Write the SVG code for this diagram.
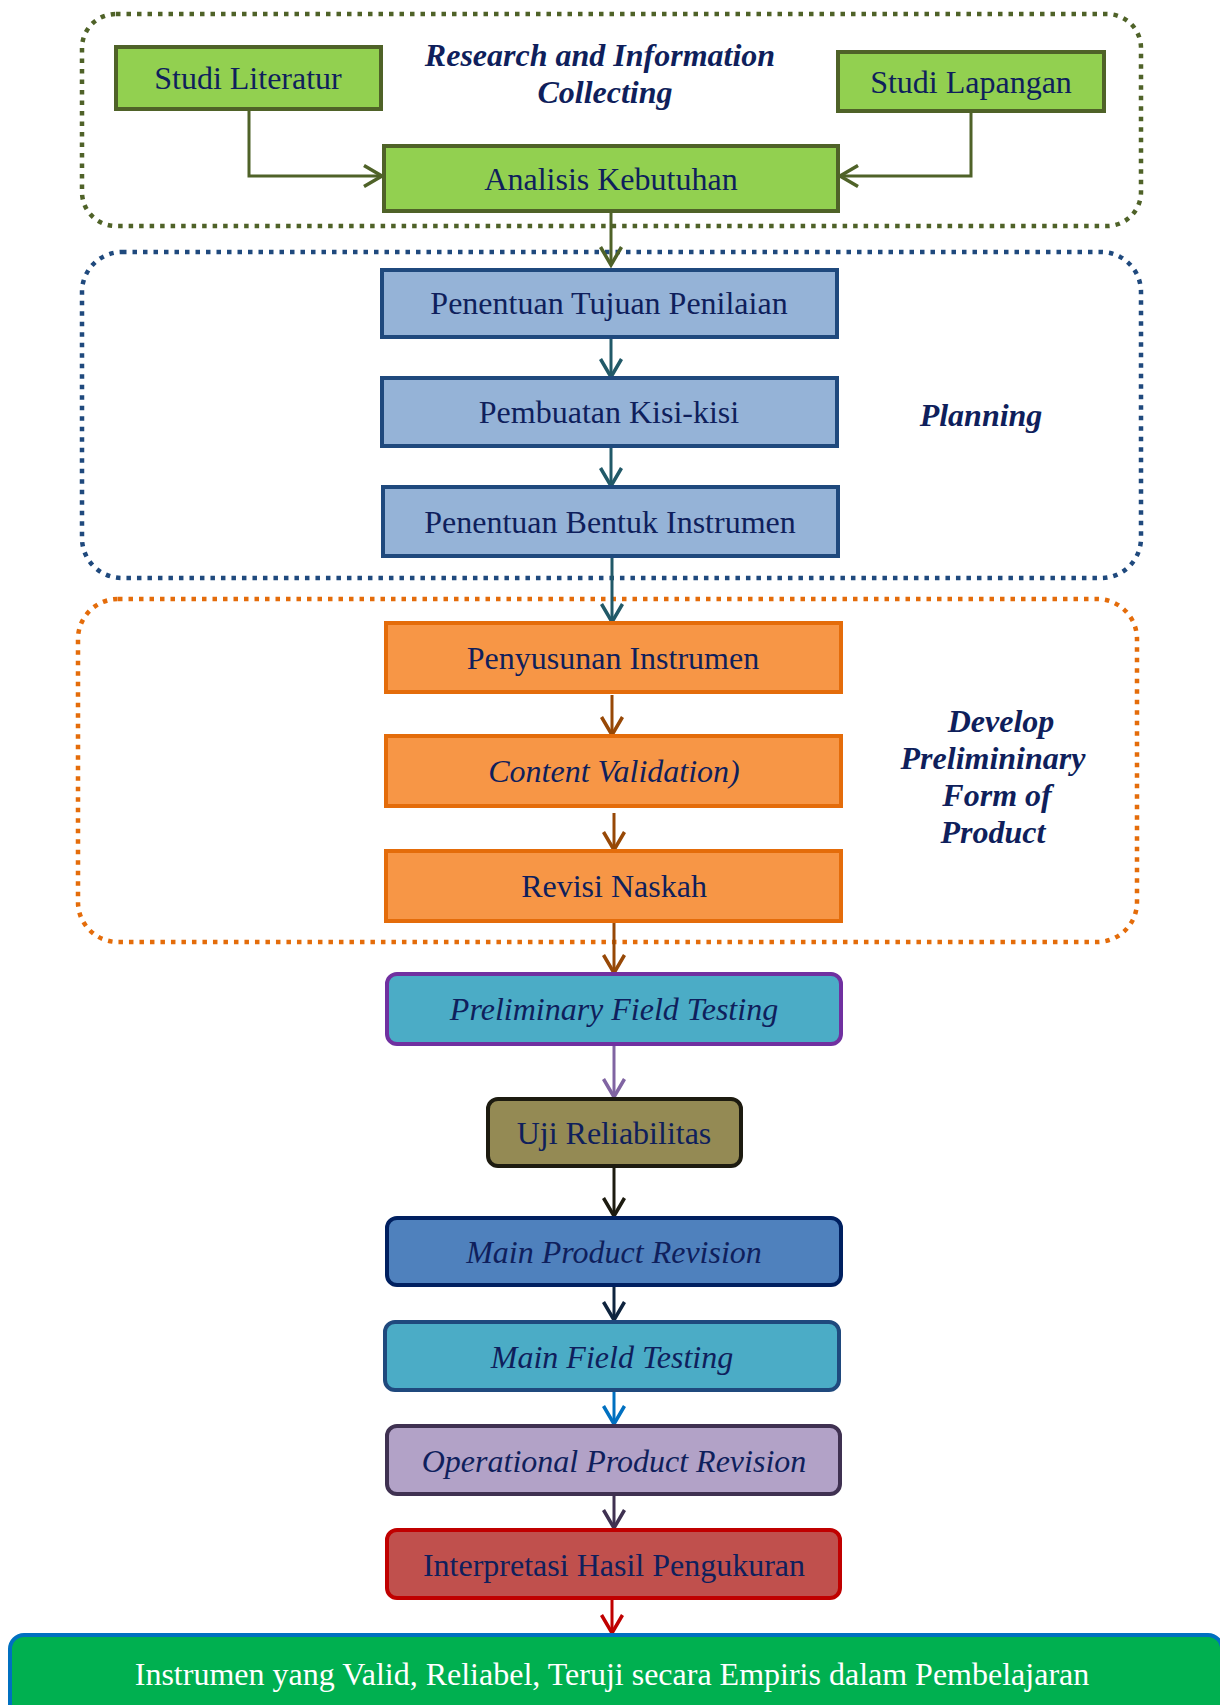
<svg xmlns="http://www.w3.org/2000/svg" width="1220" height="1705" viewBox="0 0 1220 1705">
<defs>
<style>
.t{font-family:"Liberation Serif","Times New Roman",serif;font-size:32px;fill:#0f1f5c;text-anchor:middle}
.i{font-style:italic}
.b{font-weight:bold;font-style:italic}
.grp{fill:none;stroke-width:4.5;stroke-dasharray:4.5 6}
.c{fill:none;stroke-width:3}
.h{fill:none;stroke-width:3.5;stroke-linejoin:miter}
</style>
<marker id="aG" viewBox="0 0 24 24" refX="21" refY="12" markerWidth="24" markerHeight="24" markerUnits="userSpaceOnUse" orient="auto"><path class="h" d="M3,1.5 L21,12 L3,22.5" stroke="#4f6228"/></marker>
<marker id="aT" viewBox="0 0 24 24" refX="21" refY="12" markerWidth="24" markerHeight="24" markerUnits="userSpaceOnUse" orient="auto"><path class="h" d="M3,1.5 L21,12 L3,22.5" stroke="#215968"/></marker>
<marker id="aO" viewBox="0 0 24 24" refX="21" refY="12" markerWidth="24" markerHeight="24" markerUnits="userSpaceOnUse" orient="auto"><path class="h" d="M3,1.5 L21,12 L3,22.5" stroke="#974806"/></marker>
<marker id="aP" viewBox="0 0 24 24" refX="21" refY="12" markerWidth="24" markerHeight="24" markerUnits="userSpaceOnUse" orient="auto"><path class="h" d="M3,1.5 L21,12 L3,22.5" stroke="#8064a2"/></marker>
<marker id="aK" viewBox="0 0 24 24" refX="21" refY="12" markerWidth="24" markerHeight="24" markerUnits="userSpaceOnUse" orient="auto"><path class="h" d="M3,1.5 L21,12 L3,22.5" stroke="#1d1b10"/></marker>
<marker id="aN" viewBox="0 0 24 24" refX="21" refY="12" markerWidth="24" markerHeight="24" markerUnits="userSpaceOnUse" orient="auto"><path class="h" d="M3,1.5 L21,12 L3,22.5" stroke="#0f243e"/></marker>
<marker id="aB" viewBox="0 0 24 24" refX="21" refY="12" markerWidth="24" markerHeight="24" markerUnits="userSpaceOnUse" orient="auto"><path class="h" d="M3,1.5 L21,12 L3,22.5" stroke="#0070c0"/></marker>
<marker id="aV" viewBox="0 0 24 24" refX="21" refY="12" markerWidth="24" markerHeight="24" markerUnits="userSpaceOnUse" orient="auto"><path class="h" d="M3,1.5 L21,12 L3,22.5" stroke="#3f3151"/></marker>
<marker id="aR" viewBox="0 0 24 24" refX="21" refY="12" markerWidth="24" markerHeight="24" markerUnits="userSpaceOnUse" orient="auto"><path class="h" d="M3,1.5 L21,12 L3,22.5" stroke="#c00000"/></marker>
</defs>
<rect width="1220" height="1705" fill="#ffffff"/>

<g id="groups">
<rect class="grp" x="82" y="14" width="1059" height="212" rx="34" stroke="#4f6228"/>
<rect class="grp" x="82" y="252" width="1059" height="326" rx="40" stroke="#1f497d"/>
<rect class="grp" x="78" y="599" width="1059" height="343" rx="40" stroke="#e46c0a"/>
<text class="t b" x="600" y="66">Research and Information</text>
<text class="t b" x="605" y="103">Collecting</text>
<text class="t b" x="981" y="426">Planning</text>
<text class="t b" x="1001" y="732">Develop</text>
<text class="t b" x="993" y="769">Prelimininary</text>
<text class="t b" x="997" y="806">Form of</text>
<text class="t b" x="993" y="843">Product</text>
</g>

<g id="connectors">
<path class="c" d="M249,109 V176 H382" stroke="#4f6228" marker-end="url(#aG)"/>
<path class="c" d="M971,111 V176 H840" stroke="#4f6228" marker-end="url(#aG)"/>
<path class="c" d="M611,211 V265" stroke="#4f6228" marker-end="url(#aG)"/>
<path class="c" d="M611,338 V377" stroke="#215968" marker-end="url(#aT)"/>
<path class="c" d="M611,447 V486" stroke="#215968" marker-end="url(#aT)"/>
<path class="c" d="M612,557 V622" stroke="#215968" marker-end="url(#aT)"/>
<path class="c" d="M612,695 V735" stroke="#974806" marker-end="url(#aO)"/>
<path class="c" d="M614,813 V850" stroke="#974806" marker-end="url(#aO)"/>
<path class="c" d="M614,922 V973" stroke="#974806" marker-end="url(#aO)"/>
<path class="c" d="M614,1046 V1097" stroke="#8064a2" marker-end="url(#aP)"/>
<path class="c" d="M614,1167 V1216" stroke="#1d1b10" marker-end="url(#aK)"/>
<path class="c" d="M614,1286 V1320" stroke="#0f243e" marker-end="url(#aN)"/>
<path class="c" d="M614,1391 V1424" stroke="#0070c0" marker-end="url(#aB)"/>
<path class="c" d="M614,1495 V1528" stroke="#3f3151" marker-end="url(#aV)"/>
<path class="c" d="M612,1599 V1633" stroke="#c00000" marker-end="url(#aR)"/>
</g>

<g id="studi-literatur">
<rect x="116" y="47" width="265" height="62" fill="#92d050" stroke="#4f6228" stroke-width="4"/>
<text class="t" x="248" y="89">Studi Literatur</text>
</g>
<g id="studi-lapangan">
<rect x="838" y="52" width="266" height="59" fill="#92d050" stroke="#4f6228" stroke-width="4"/>
<text class="t" x="971" y="93">Studi Lapangan</text>
</g>
<g id="analisis-kebutuhan">
<rect x="384" y="146" width="454" height="65" fill="#92d050" stroke="#4f6228" stroke-width="4"/>
<text class="t" x="611" y="190">Analisis Kebutuhan</text>
</g>

<g id="penentuan-tujuan">
<rect x="382" y="270" width="455" height="67" fill="#95b3d7" stroke="#1f497d" stroke-width="4"/>
<text class="t" x="609" y="314">Penentuan Tujuan Penilaian</text>
</g>
<g id="pembuatan-kisi">
<rect x="382" y="378" width="455" height="68" fill="#95b3d7" stroke="#1f497d" stroke-width="4"/>
<text class="t" x="609" y="423">Pembuatan Kisi-kisi</text>
</g>
<g id="penentuan-bentuk">
<rect x="383" y="487" width="455" height="69" fill="#95b3d7" stroke="#1f497d" stroke-width="4"/>
<text class="t" x="610" y="533">Penentuan Bentuk Instrumen</text>
</g>

<g id="penyusunan">
<rect x="386" y="623" width="455" height="69" fill="#f79646" stroke="#e46c0a" stroke-width="4"/>
<text class="t" x="613" y="669">Penyusunan Instrumen</text>
</g>
<g id="content-validation">
<rect x="386" y="736" width="455" height="70" fill="#f79646" stroke="#e46c0a" stroke-width="4"/>
<text class="t i" x="614" y="782">Content Validation)</text>
</g>
<g id="revisi-naskah">
<rect x="386" y="851" width="455" height="70" fill="#f79646" stroke="#e46c0a" stroke-width="4"/>
<text class="t" x="614" y="897">Revisi Naskah</text>
</g>

<g id="preliminary-field-testing">
<rect x="387" y="974" width="454" height="70" rx="10" fill="#4bacc6" stroke="#7030a0" stroke-width="4"/>
<text class="t i" x="614" y="1020">Preliminary Field Testing</text>
</g>
<g id="uji-reliabilitas">
<rect x="488" y="1099" width="253" height="67" rx="10" fill="#948a54" stroke="#1d1b10" stroke-width="4"/>
<text class="t" x="614" y="1144">Uji Reliabilitas</text>
</g>
<g id="main-product-revision">
<rect x="387" y="1218" width="454" height="67" rx="10" fill="#4f81bd" stroke="#002060" stroke-width="4"/>
<text class="t i" x="614" y="1263">Main Product Revision</text>
</g>
<g id="main-field-testing">
<rect x="385" y="1322" width="454" height="68" rx="10" fill="#4bacc6" stroke="#1f497d" stroke-width="4"/>
<text class="t i" x="612" y="1368">Main Field Testing</text>
</g>
<g id="operational-product-revision">
<rect x="387" y="1426" width="453" height="68" rx="10" fill="#b2a2c7" stroke="#3f3151" stroke-width="4"/>
<text class="t i" x="614" y="1472">Operational Product Revision</text>
</g>
<g id="interpretasi">
<rect x="387" y="1530" width="453" height="68" rx="10" fill="#c0504d" stroke="#c00000" stroke-width="4"/>
<text class="t" x="614" y="1576">Interpretasi Hasil Pengukuran</text>
</g>
<g id="final">
<rect x="10" y="1635" width="1212" height="90" rx="14" fill="#00b050" stroke="#0070c0" stroke-width="4"/>
<text class="t" x="612" y="1685" style="fill:#ffffff">Instrumen yang Valid, Reliabel, Teruji secara Empiris dalam Pembelajaran</text>
</g>
</svg>
